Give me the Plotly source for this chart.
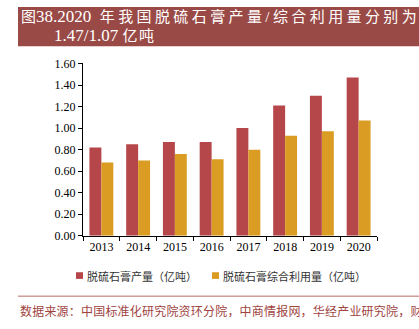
import plotly.graph_objects as go

years = ["2013", "2014", "2015", "2016", "2017", "2018", "2019", "2020"]
production = [0.82, 0.85, 0.87, 0.87, 1.00, 1.21, 1.30, 1.47]
utilization = [0.68, 0.70, 0.76, 0.71, 0.80, 0.93, 0.97, 1.07]
series_names = ["脱硫石膏产量（亿吨）", "脱硫石膏综合利用量（亿吨）"]
y_ticks = [0, 0.2, 0.4, 0.6, 0.8, 1.0, 1.2, 1.4, 1.6]

RED = "#B5474A"
YEL = "#DA9C22"
BAND = "#9A4A46"
W, H = 419, 329

def px(x):
    return x / W

def py(y):
    return 1 - y / H

fig = go.Figure()
fig.add_trace(go.Bar(x=years, y=production, name=series_names[0], marker=dict(color=RED, line=dict(width=0))))
fig.add_trace(go.Bar(x=years, y=utilization, name=series_names[1], marker=dict(color=YEL, line=dict(width=0))))

serif = "Liberation Serif, Noto Sans CJK SC"
cjk = "Noto Sans CJK SC"

fig.update_layout(
    width=W, height=H,
    margin=dict(l=0, r=0, t=0, b=0),
    paper_bgcolor="white", plot_bgcolor="white",
    barmode="group", bargap=0.35, bargroupgap=0,
    showlegend=False,
    xaxis=dict(domain=[px(83), px(377)], showline=True, linecolor="#000", linewidth=1,
               ticks="outside", ticklen=4, tickcolor="#000", tickson="boundaries",
               tickfont=dict(family=serif, size=12, color="#000"), showgrid=False),
    yaxis=dict(domain=[py(239), py(59)], range=[0, 1.6], tickvals=y_ticks,
               tickformat=".2f", showline=True, linecolor="#000", linewidth=1,
               ticks="outside", ticklen=4, tickcolor="#000", showgrid=False, zeroline=False,
               tickfont=dict(family=serif, size=12, color="#000")),
    font=dict(family=serif),
    hovermode=False,
)

# title band
fig.add_shape(type="rect", xref="paper", yref="paper", x0=px(18), x1=1, y0=py(41), y1=1,
              fillcolor=BAND, line=dict(width=0), layer="below")
# separator line above source
fig.add_shape(type="line", xref="paper", yref="paper", x0=px(18), x1=1, y0=py(302), y1=py(302),
              line=dict(color="#B56A66", width=1))

fig.add_annotation(xref="paper", yref="paper", x=px(19), y=py(10), xanchor="left", yanchor="middle",
                   text='<span style="font-size:15px">图</span>38.2020&nbsp; '
                        '<span style="font-size:15px;letter-spacing:3.4px">年我国脱硫石膏产量/综合利用量分别为</span>',
                   showarrow=False, font=dict(family=serif, size=17, color="white"))
fig.add_annotation(xref="paper", yref="paper", x=px(52), y=py(30), xanchor="left", yanchor="middle",
                   text='1.47/1.07 <span style="font-size:15px;letter-spacing:1.5px">亿吨</span>',
                   showarrow=False, font=dict(family=serif, size=17, color="white"))

# legend (manual)
legend_items = [(76, 85, RED, series_names[0]), (212, 221, YEL, series_names[1])]
for sx, tx, col, name in legend_items:
    fig.add_shape(type="rect", xref="paper", yref="paper", x0=px(sx), x1=px(sx + 7),
                  y0=py(284), y1=py(277), fillcolor=col, line=dict(width=0))
    fig.add_annotation(xref="paper", yref="paper", x=px(tx), y=py(280.5), xanchor="left", yanchor="middle",
                       text=name, showarrow=False,
                       font=dict(family=cjk, size=11, color="#333"))

fig.add_annotation(xref="paper", yref="paper", x=px(18), y=py(317), xanchor="left", yanchor="middle",
                   text='<span style="letter-spacing:0.2px">数据来源：中国标准化研究院资环分院，中商情报网，华经产业研究院，财通证券研究所</span>',
                   showarrow=False, font=dict(family=cjk, size=12, color="#A0443F"))

fig.write_html("out.html")
